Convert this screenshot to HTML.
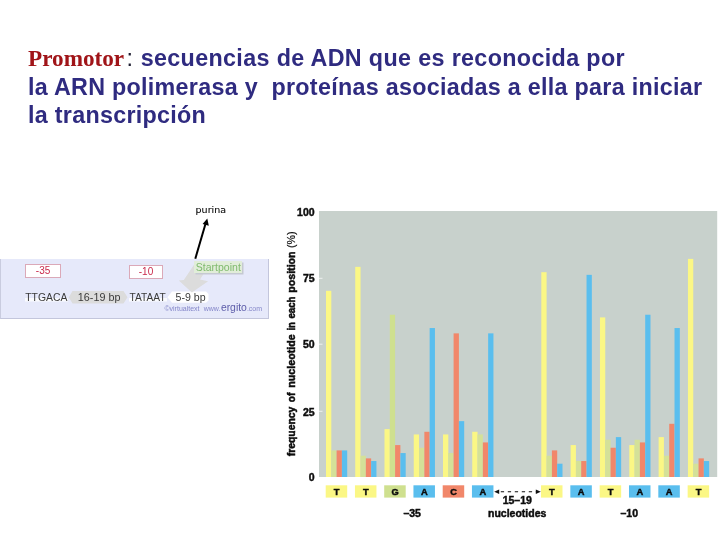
<!DOCTYPE html>
<html><head><meta charset="utf-8"><title>Promotor</title>
<style>
html,body{margin:0;padding:0;background:#fff}
body{width:720px;height:540px;position:relative;overflow:hidden;font-family:"Liberation Sans",sans-serif}
.hd{position:absolute;left:28px;top:43.9px;font:bold 23.3px/28.7px "Liberation Sans",sans-serif;color:#2f2b80;white-space:pre;margin:0;letter-spacing:0.29px}
.hd .p{font-family:"Liberation Serif",serif;font-size:23.2px;color:#a01418;letter-spacing:0}
.hd .c{color:#1c1c30;font-weight:normal;margin-left:2.4px;margin-right:0.5px}
.hd .l1{letter-spacing:0.355px}
.box{position:absolute;left:0;top:258.7px;width:266.8px;height:59.3px;background:#e6e9fa;border-right:1.6px solid #c3c6dc;border-bottom:1.3px solid #c3c6dc;border-left:1.5px solid #c9ccdf;box-sizing:content-box}
.nb{position:absolute;background:#fff;border:1px solid #dba9b8;color:#c9294b;font-size:10px;line-height:12px;text-align:center;box-sizing:border-box}
.sq{position:absolute;font-size:10.4px;line-height:12px;color:#3a3a3a;white-space:pre}
svg text.lt{font:bold 9.3px "Liberation Sans",sans-serif;fill:#0c0c0c;stroke:#0c0c0c;stroke-width:0.45px}
svg text.ax{font:bold 10.5px "Liberation Sans",sans-serif;fill:#0c0c0c;stroke:#0c0c0c;stroke-width:0.45px}
svg text.yl{font:bold 10.5px "Liberation Sans",sans-serif;fill:#0c0c0c;stroke:#0c0c0c;stroke-width:0.5px}
</style></head><body>
<p class="hd"><span class="p">Promotor</span><span class="c">:</span><span class="l1"> secuencias de ADN que es reconocida por</span>
la ARN polimerasa y  proteínas asociadas a ella para iniciar
la transcripción</p>

<div class="box"></div>
<svg width="720" height="540" style="position:absolute;left:0;top:0">
<defs><filter id="bl" x="-10%" y="-20%" width="120%" height="140%"><feGaussianBlur stdDeviation="0.7"/></filter></defs>
<!-- gray spacer blob -->
<polygon points="68.8,297.2 72.5,291 123.5,291 127.5,297.2 123.5,303.5 72.5,303.5" fill="#dcdcdc" filter="url(#bl)"/>
<!-- white blob -->
<polygon points="167.5,297.2 172,291.5 206,291.5 208.5,294 208.5,300.5 206,302.8 172,302.8" fill="#fff" filter="url(#bl)"/>
<!-- white under sequences -->
<rect x="25" y="298" width="43" height="3.5" fill="#fff" opacity="0.8"/>
<rect x="129" y="298" width="38" height="3.5" fill="#fff" opacity="0.8"/>
<!-- gray arrow -->
<polygon points="195.5,262.5 183.8,280 178.8,280.6 191.9,292.5 208.1,281.3 200,279.4 205.5,271" fill="#dcdcdc" filter="url(#bl)"/>
<!-- black arrow -->
<line x1="195.3" y1="258.7" x2="205.6" y2="223.5" stroke="#000" stroke-width="2"/>
<polygon points="207.3,218.5 208.8,225.8 202.6,224" fill="#000"/>
<text x="195.6" y="213.1" style="font:9.5px 'DejaVu Sans',sans-serif;fill:#000;stroke:#000;stroke-width:0.08px">purina</text>
<rect x="319" y="211" width="398.2" height="266" fill="#c8d1cc"/>
<rect x="319" y="277.8" width="3.5" height="1" fill="#eef1ef"/>
<rect x="319" y="343.7" width="3.5" height="1" fill="#eef1ef"/>
<rect x="319" y="410.8" width="3.5" height="1" fill="#eef1ef"/>
<rect x="326.00" y="290.80" width="5.3" height="186.20" fill="#fbf785"/>
<rect x="331.30" y="450.40" width="5.3" height="26.60" fill="#d4e198"/>
<rect x="336.60" y="450.40" width="5.3" height="26.60" fill="#f1876a"/>
<rect x="341.90" y="450.40" width="5.3" height="26.60" fill="#5abeee"/>
<rect x="325.70" y="485.3" width="21.50" height="12.3" fill="#fbf785"/>
<text x="336.60" y="495" text-anchor="middle" class="lt">T</text>
<rect x="355.25" y="266.86" width="5.3" height="210.14" fill="#fbf785"/>
<rect x="360.55" y="455.72" width="5.3" height="21.28" fill="#d4e198"/>
<rect x="365.85" y="458.38" width="5.3" height="18.62" fill="#f1876a"/>
<rect x="371.15" y="461.04" width="5.3" height="15.96" fill="#5abeee"/>
<rect x="354.95" y="485.3" width="21.50" height="12.3" fill="#fbf785"/>
<text x="365.85" y="495" text-anchor="middle" class="lt">T</text>
<rect x="384.50" y="429.12" width="5.3" height="47.88" fill="#fbf785"/>
<rect x="389.80" y="314.74" width="5.3" height="162.26" fill="#cfe08f"/>
<rect x="395.10" y="445.08" width="5.3" height="31.92" fill="#f1876a"/>
<rect x="400.40" y="453.06" width="5.3" height="23.94" fill="#5abeee"/>
<rect x="384.20" y="485.3" width="21.50" height="12.3" fill="#cfe08f"/>
<text x="395.10" y="495" text-anchor="middle" class="lt">G</text>
<rect x="413.75" y="434.44" width="5.3" height="42.56" fill="#fbf785"/>
<rect x="419.05" y="447.74" width="5.3" height="29.26" fill="#d4e198"/>
<rect x="424.35" y="431.78" width="5.3" height="45.22" fill="#f1876a"/>
<rect x="429.65" y="328.04" width="5.3" height="148.96" fill="#5abeee"/>
<rect x="413.45" y="485.3" width="21.50" height="12.3" fill="#5abeee"/>
<text x="424.35" y="495" text-anchor="middle" class="lt">A</text>
<rect x="443.00" y="434.44" width="5.3" height="42.56" fill="#fbf785"/>
<rect x="448.30" y="453.06" width="5.3" height="23.94" fill="#d4e198"/>
<rect x="453.60" y="333.36" width="5.3" height="143.64" fill="#f1876a"/>
<rect x="458.90" y="421.14" width="5.3" height="55.86" fill="#5abeee"/>
<rect x="442.70" y="485.3" width="21.50" height="12.3" fill="#f1876a"/>
<text x="453.60" y="495" text-anchor="middle" class="lt">C</text>
<rect x="472.25" y="431.78" width="5.3" height="45.22" fill="#fbf785"/>
<rect x="477.55" y="434.44" width="5.3" height="42.56" fill="#d4e198"/>
<rect x="482.85" y="442.42" width="5.3" height="34.58" fill="#f1876a"/>
<rect x="488.15" y="333.36" width="5.3" height="143.64" fill="#5abeee"/>
<rect x="471.95" y="485.3" width="21.50" height="12.3" fill="#5abeee"/>
<text x="482.85" y="495" text-anchor="middle" class="lt">A</text>
<rect x="541.30" y="272.18" width="5.3" height="204.82" fill="#fbf785"/>
<rect x="546.60" y="455.72" width="5.3" height="21.28" fill="#d4e198"/>
<rect x="551.90" y="450.40" width="5.3" height="26.60" fill="#f1876a"/>
<rect x="557.20" y="463.70" width="5.3" height="13.30" fill="#5abeee"/>
<rect x="541.00" y="485.3" width="21.50" height="12.3" fill="#fbf785"/>
<text x="551.90" y="495" text-anchor="middle" class="lt">T</text>
<rect x="570.63" y="445.08" width="5.3" height="31.92" fill="#fbf785"/>
<rect x="575.93" y="461.04" width="5.3" height="15.96" fill="#d4e198"/>
<rect x="581.23" y="461.04" width="5.3" height="15.96" fill="#f1876a"/>
<rect x="586.53" y="274.84" width="5.3" height="202.16" fill="#5abeee"/>
<rect x="570.33" y="485.3" width="21.50" height="12.3" fill="#5abeee"/>
<text x="581.23" y="495" text-anchor="middle" class="lt">A</text>
<rect x="599.96" y="317.40" width="5.3" height="159.60" fill="#fbf785"/>
<rect x="605.26" y="439.76" width="5.3" height="37.24" fill="#d4e198"/>
<rect x="610.56" y="447.74" width="5.3" height="29.26" fill="#f1876a"/>
<rect x="615.86" y="437.10" width="5.3" height="39.90" fill="#5abeee"/>
<rect x="599.66" y="485.3" width="21.50" height="12.3" fill="#fbf785"/>
<text x="610.56" y="495" text-anchor="middle" class="lt">T</text>
<rect x="629.29" y="445.08" width="5.3" height="31.92" fill="#fbf785"/>
<rect x="634.59" y="439.76" width="5.3" height="37.24" fill="#d4e198"/>
<rect x="639.89" y="442.42" width="5.3" height="34.58" fill="#f1876a"/>
<rect x="645.19" y="314.74" width="5.3" height="162.26" fill="#5abeee"/>
<rect x="628.99" y="485.3" width="21.50" height="12.3" fill="#5abeee"/>
<text x="639.89" y="495" text-anchor="middle" class="lt">A</text>
<rect x="658.62" y="437.10" width="5.3" height="39.90" fill="#fbf785"/>
<rect x="663.92" y="455.72" width="5.3" height="21.28" fill="#d4e198"/>
<rect x="669.22" y="423.80" width="5.3" height="53.20" fill="#f1876a"/>
<rect x="674.52" y="328.04" width="5.3" height="148.96" fill="#5abeee"/>
<rect x="658.32" y="485.3" width="21.50" height="12.3" fill="#5abeee"/>
<text x="669.22" y="495" text-anchor="middle" class="lt">A</text>
<rect x="687.95" y="258.88" width="5.3" height="218.12" fill="#fbf785"/>
<rect x="693.25" y="463.70" width="5.3" height="13.30" fill="#d4e198"/>
<rect x="698.55" y="458.38" width="5.3" height="18.62" fill="#f1876a"/>
<rect x="703.85" y="461.04" width="5.3" height="15.96" fill="#5abeee"/>
<rect x="687.65" y="485.3" width="21.50" height="12.3" fill="#fbf785"/>
<text x="698.55" y="495" text-anchor="middle" class="lt">T</text>
<text x="314.6" y="215.5" text-anchor="end" class="ax">100</text>
<text x="314.6" y="282.0" text-anchor="end" class="ax">75</text>
<text x="314.6" y="348.0" text-anchor="end" class="ax">50</text>
<text x="314.6" y="416.2" text-anchor="end" class="ax">25</text>
<text x="314.6" y="480.8" text-anchor="end" class="ax">0</text>
<text transform="translate(295.2,456.3) rotate(-90)" class="yl"><tspan x="0" textLength="49.6" lengthAdjust="spacingAndGlyphs">frequency</tspan> <tspan x="54.1" textLength="9.6" lengthAdjust="spacingAndGlyphs">of</tspan> <tspan x="68.5" textLength="53.5" lengthAdjust="spacingAndGlyphs">nucleotide</tspan> <tspan x="125.7" textLength="8.4" lengthAdjust="spacingAndGlyphs">in</tspan> <tspan x="137.8" textLength="22" lengthAdjust="spacingAndGlyphs">each</tspan> <tspan x="163.5" textLength="41.4" lengthAdjust="spacingAndGlyphs">position</tspan> <tspan x="208.2" textLength="16.6" lengthAdjust="spacingAndGlyphs" style="font-weight:normal;stroke-width:0.2px">(%)</tspan></text>
<text x="412.2" y="516.8" text-anchor="middle" class="ax">–35</text>
<text x="629.3" y="516.8" text-anchor="middle" class="ax">–10</text>
<text x="517.3" y="504" text-anchor="middle" class="ax">15–19</text>
<text x="517.2" y="517" text-anchor="middle" class="ax" textLength="58.3" lengthAdjust="spacingAndGlyphs">nucleotides</text>
<line x1="500.8" y1="491.7" x2="536" y2="491.7" stroke="#111" stroke-width="1.1" stroke-dasharray="3.3 3.7"/>
<polygon points="494.2,491.7 499.2,489.4 499.2,494" fill="#111"/>
<polygon points="540.8,491.7 535.8,489.4 535.8,494" fill="#111"/>
</svg>
<div class="nb" style="left:25.2px;top:264.1px;width:35.8px;height:13.8px">-35</div>
<div class="nb" style="left:129.2px;top:265.2px;width:33.6px;height:13.4px">-10</div>
<div class="sq" style="left:25.2px;top:291.6px">TTGACA</div>
<div class="sq" style="left:77.8px;top:290.8px;font-size:10.8px">16-19 bp</div>
<div class="sq" style="left:129.6px;top:291.6px;font-size:10.2px">TATAAT</div>
<div class="sq" style="left:175.6px;top:291.2px;font-size:10.6px">5-9 bp</div>
<div style="position:absolute;left:194.2px;top:260.8px;width:48.3px;height:11.8px;background:#e1edd9;box-shadow:1.5px 1.5px 0 #c5c9d2;color:#7fba6d;font-size:10.5px;line-height:12px;text-align:center;white-space:nowrap">Startpoint</div>
<div style="position:absolute;left:164.4px;top:300px;font-size:7px;line-height:16px;color:#8486c9;white-space:pre">©virtualtext<span style="margin-left:2.2px"> www.</span><span style="font-size:10.4px;color:#5c5ca9;margin-left:0.5px">ergito</span>.com</div>
</body></html>
